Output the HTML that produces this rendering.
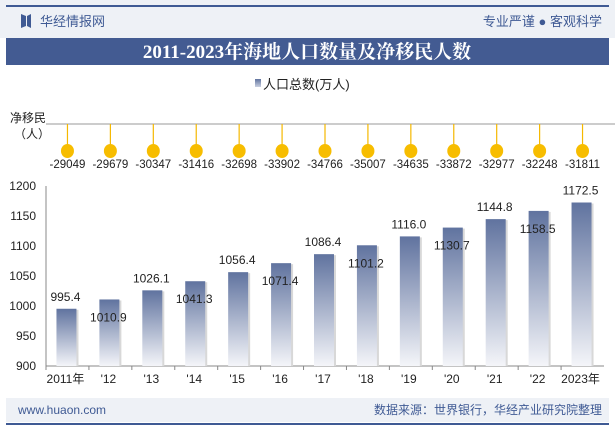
<!DOCTYPE html>
<html><head><meta charset="utf-8"><style>
body{margin:0;width:615px;height:427px;overflow:hidden;background:#fff;font-family:"Liberation Sans","Noto Sans CJK SC",sans-serif}
svg{display:block}
</style></head><body>
<svg id="c" width="615" height="427" xmlns="http://www.w3.org/2000/svg">
<defs>
<linearGradient id="bg" x1="0" y1="0" x2="0" y2="1"><stop offset="0" stop-color="#60739f"/><stop offset="1" stop-color="#f4f5f9"/></linearGradient>
<linearGradient id="lg" x1="0" y1="0" x2="0" y2="1"><stop offset="0" stop-color="#60739f"/><stop offset="1" stop-color="#c9d0e0"/></linearGradient>
</defs>
<rect x="0" y="0" width="615" height="38" fill="#eef1f6"/>
<rect x="6" y="5" width="603" height="2" fill="#3f5a94"/>
<path d="M21 14 L26 16 L26 26 L21 28 Z M27 16 L31 14 L31 28 L27 26 Z" fill="#3f5a94"/>
<text x="40" y="26" font-size="13" fill="#3f5a94">华经情报网</text>
<text x="602" y="26" font-size="13" fill="#3f5a94" text-anchor="end">专业严谨 ● 客观科学</text>
<rect x="6" y="38" width="603" height="27" fill="#435b92"/>
<text x="307" y="58" font-size="19" font-weight="bold" fill="#fff" text-anchor="middle" font-family="'Liberation Serif','Noto Serif CJK SC',serif">2011-2023年海地人口数量及净移民人数</text>
<rect x="255" y="79" width="6" height="8" fill="url(#lg)"/>
<text x="263" y="89" font-size="13" fill="#222">人口总数(万人)</text>
<text x="10" y="122" font-size="12" fill="#222">净移民</text>
<text x="14" y="138" font-size="12" fill="#222">（人）</text>
<line x1="46" y1="124" x2="615" y2="124" stroke="#999" stroke-width="1"/>
<g id="mig"></g>
<g id="axes"></g>
<g id="bars"></g>
<rect x="6" y="398" width="603" height="24" fill="#eef1f6"/>
<rect x="6" y="423" width="603" height="2" fill="#3f5a94"/>
<text x="18" y="414" font-size="12" fill="#3f5a94">www.huaon.com</text>
<text x="602" y="414" font-size="12" fill="#3f5a94" text-anchor="end">数据来源：世界银行，华经产业研究院整理</text>
</svg>
<script>
const categories=["2011年","'12","'13","'14","'15","'16","'17","'18","'19","'20","'21","'22","2023年"];
const population=[995.4,1010.9,1026.1,1041.3,1056.4,1071.4,1086.4,1101.2,1116.0,1130.7,1144.8,1158.5,1172.5];
const migration=[-29049,-29679,-30347,-31416,-32698,-33902,-34766,-35007,-34635,-33872,-32977,-32248,-31811];
const yTicks=[900,950,1000,1050,1100,1150,1200];
const NS="http://www.w3.org/2000/svg";
const x0=46,x1=604,yTop=186,yBot=366,yMin=900,yMax=1200;
const bw=(x1-x0)/categories.length;
function xc(i){return x0+bw*(i+0.5);}
function y(v){return yBot-(v-yMin)/(yMax-yMin)*(yBot-yTop);}
function mk(tag,attrs,parent){const e=document.createElementNS(NS,tag);for(const k in attrs)e.setAttribute(k,attrs[k]);parent.appendChild(e);return e;}
const ax=document.getElementById('axes'),bars=document.getElementById('bars'),mig=document.getElementById('mig');
yTicks.forEach(t=>{const e=mk('text',{x:36,y:y(t)+4,'font-size':12,fill:'#222','text-anchor':'end'},ax);e.textContent=t;

});
const axl=mk('line',{x1:x0,y1:yTop,x2:x0,y2:yBot,stroke:'#888'},ax);


const bl=mk('line',{x1:x0,y1:yBot,x2:x1,y2:yBot,stroke:'#888'},ax);


categories.forEach((c,i)=>{
 const tk=mk('line',{x1:x0+bw*i,y1:yBot,x2:x0+bw*i,y2:yBot+4,stroke:'#888'},ax);
 
 
 const t=mk('text',{x:xc(i)-2,y:yBot+17,'font-size':12,fill:'#222','text-anchor':'middle'},ax);t.textContent=c;
 
 
 const v=population[i],yy=y(v);
 const sh=mk('rect',{x:xc(i)-9,y:yy+1,width:20,height:yBot-yy-1,fill:'#d8d8d8'},bars);
 
 
 const r=mk('rect',{x:xc(i)-11,y:yy,width:20,height:yBot-yy,fill:'url(#bg)'},bars);
 
 
 const ly=(i%2===0)?yy-8:yy+22;
 const l=mk('text',{x:xc(i)-2,y:ly,'font-size':12,fill:'#222','text-anchor':'middle'},bars);l.textContent=v.toFixed(1);
 
 
 const m=migration[i];
 const st=mk('line',{x1:xc(i),y1:124,x2:xc(i),y2:146,stroke:'#f5b800','stroke-width':1.2},mig);
 
 
 const d=mk('ellipse',{cx:xc(i),cy:151,rx:6.5,ry:7,fill:'#f7bd00'},mig);
 
 
 const ml=mk('text',{x:xc(i),y:168,'font-size':11.5,fill:'#222','text-anchor':'middle'},mig);ml.textContent=m;
 
 
});
</script>
</body></html>
